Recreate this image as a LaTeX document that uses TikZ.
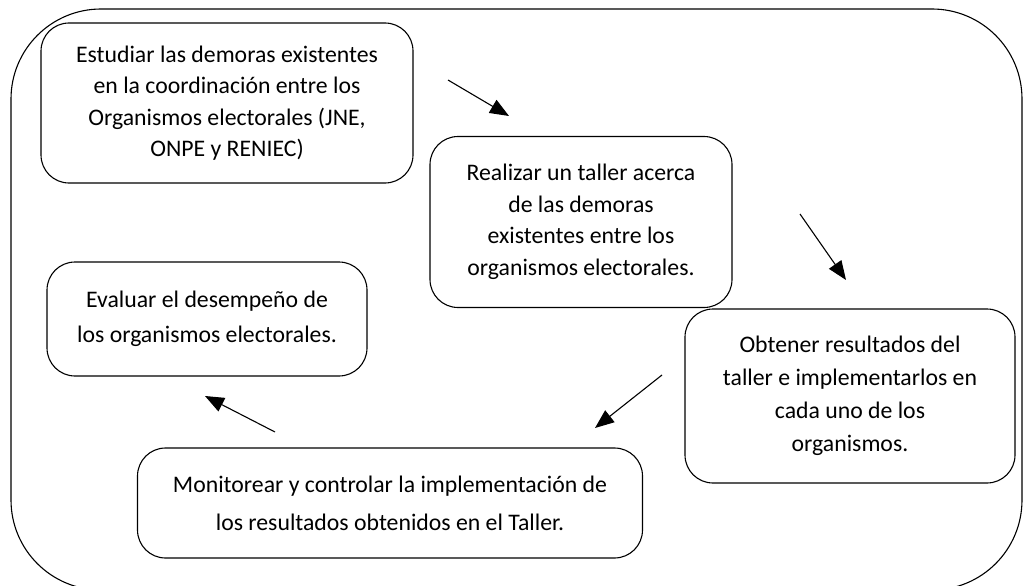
\documentclass[tikz,border=0pt]{standalone}
\usepackage{fontspec}
\setmainfont{Carlito}
\usetikzlibrary{arrows.meta}
\begin{document}
\begin{tikzpicture}
  [x=1pt,y=-1pt,line width=1.1pt,
   paso/.style={draw,rounded corners=28pt,align=center,inner sep=0pt,
     font=\fontsize{23.75}{31.5}\selectfont},
   flecha/.style={-{Triangle[length=19pt,width=15pt]}}]
  \useasboundingbox (0,0) rectangle (1023,586);
  \draw[rounded corners=90pt] (11,9) rectangle (1022,590);

  \node[paso,minimum width=372pt,minimum height=160pt] (p1) at (227,103)
    {Estudiar las demoras existentes\\en la coordinación entre los\\Organismos electorales (JNE,\\ONPE y RENIEC)};
  \node[paso,minimum width=302pt,minimum height=171pt] (p2) at (581,222)
    {Realizar un taller acerca\\de las demoras\\existentes entre los\\organismos electorales.};
  \node[paso,minimum width=330pt,minimum height=174pt,
        font=\fontsize{23.75}{33}\selectfont] (p3) at (850,396)
    {Obtener resultados del\\taller e implementarlos en\\cada uno de los\\organismos.};
  \node[paso,minimum width=505pt,minimum height=110pt,
        font=\fontsize{23.75}{38}\selectfont] (p4) at (390,503)
    {Monitorear y controlar la implementación de\\los resultados obtenidos en el Taller.};
  \node[paso,minimum width=320pt,minimum height=114pt,
        font=\fontsize{23.75}{35}\selectfont] (p5) at (207,319)
    {Evaluar el desempeño de\\los organismos electorales.};

  \coordinate (a1) at (448,80);  \coordinate (b1) at (509,116);
  \coordinate (a2) at (800,214); \coordinate (b2) at (846,280);
  \coordinate (a3) at (662,375); \coordinate (b3) at (595,428);
  \coordinate (a4) at (275,432); \coordinate (b4) at (205,396);

  \foreach \from/\to in {a1/b1,a2/b2,a3/b3,a4/b4}
    \draw [flecha] (\from) -- (\to);
\end{tikzpicture}
\end{document}
